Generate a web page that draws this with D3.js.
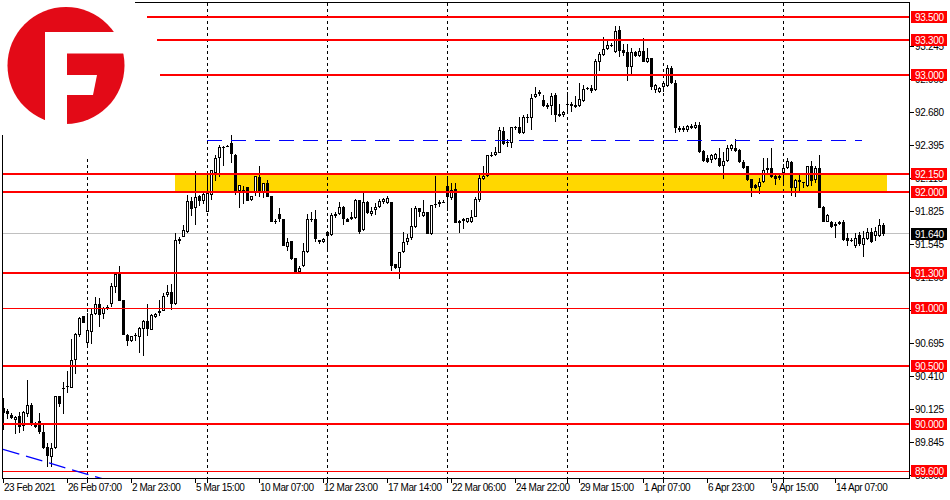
<!DOCTYPE html>
<html><head><meta charset="utf-8">
<script src="https://cdn.jsdelivr.net/npm/d3@7"></script>
<style>
body{margin:0;background:#fff}
text{font-family:'Liberation Sans',Arial,sans-serif;font-size:10px}
text.tl{letter-spacing:-0.45px}
text.pl{letter-spacing:-0.3px}
</style>
</head><body>
<svg id="c" width="950" height="500"></svg>
<script>
// ---------------- DATA (H4 candles, USD index) ----------------
const open = [90.138,90.118,90.081,90.038,90.072,89.986,90.089,90.166,89.995,90.032,89.937,89.803,89.723,89.794,90.244,90.301,90.330,90.315,90.553,90.768,
90.931,90.696,90.796,90.945,91.034,90.945,90.997,91.031,91.177,91.292,91.069,90.771,90.713,90.768,90.753,90.817,90.888,90.811,90.925,90.954,
90.977,91.109,91.137,91.034,91.578,91.613,91.656,91.919,91.856,91.962,91.922,91.827,91.971,92.157,92.286,92.371,92.390,92.414,92.314,92.005,
92.014,92.039,91.925,91.999,92.128,91.999,92.077,91.962,91.747,91.807,91.762,91.527,91.575,91.432,91.306,91.364,91.478,91.762,91.762,91.584,
91.564,91.650,91.627,91.790,91.805,91.870,91.764,91.764,91.770,91.928,91.667,91.908,91.805,91.842,91.865,91.908,91.899,91.908,91.375,91.346,
91.478,91.564,91.598,91.699,91.856,91.793,91.827,91.638,91.890,91.890,91.912,92.048,91.945,92.019,91.727,91.762,91.736,91.741,91.784,91.928,
92.105,92.134,92.315,92.314,92.334,92.520,92.426,92.414,92.543,92.552,92.500,92.644,92.629,92.810,92.838,92.787,92.744,92.735,92.830,92.649,
92.655,92.749,92.749,92.744,92.738,92.781,92.887,92.887,92.873,93.116,93.173,93.222,93.257,93.202,93.388,93.216,93.196,93.073,93.196,93.165,
93.208,93.116,93.150,92.873,92.858,92.901,92.907,93.059,92.930,92.530,92.545,92.525,92.560,92.550,92.575,92.349,92.291,92.271,92.280,92.291,
92.223,92.263,92.366,92.372,92.357,92.257,92.223,92.108,92.057,92.042,92.079,92.185,92.205,92.137,92.114,92.157,92.200,92.257,92.034,92.079,
92.079,92.048,92.217,92.099,92.200,91.870,91.742,91.742,91.704,91.719,91.742,91.604,91.584,91.535,91.627,91.541,91.593,91.650,91.621,91.621,
91.713];
const high = [90.224,90.129,90.095,90.072,90.109,90.118,90.381,90.181,90.023,90.095,90.009,89.837,89.837,90.244,90.244,90.367,90.461,90.731,90.788,90.920,
90.931,90.960,90.988,91.091,91.086,91.011,91.026,91.217,91.298,91.361,91.069,90.776,90.759,90.788,90.834,90.897,91.034,90.948,90.960,91.066,
91.126,91.197,91.206,91.647,91.607,91.713,91.971,91.956,92.180,91.971,91.999,92.180,92.185,92.314,92.400,92.394,92.403,92.486,92.320,92.057,
92.051,92.039,91.965,92.134,92.223,92.071,92.099,91.962,91.762,91.856,91.762,91.598,91.575,91.432,91.364,91.555,91.805,91.822,91.842,91.584,
91.598,91.656,91.813,91.827,91.913,91.876,91.770,91.827,91.936,91.928,91.985,91.919,91.870,91.899,91.936,91.948,91.965,91.908,91.375,91.484,
91.656,91.633,91.856,91.879,91.862,91.928,91.827,91.885,92.137,91.928,91.928,92.137,92.071,92.071,91.756,91.776,91.770,91.842,91.956,92.157,
92.220,92.314,92.343,92.380,92.552,92.558,92.449,92.558,92.563,92.644,92.658,92.666,92.838,92.901,92.873,92.830,92.764,92.850,92.844,92.752,
92.695,92.858,92.772,92.821,92.936,92.916,92.901,92.916,93.136,93.202,93.331,93.296,93.274,93.422,93.422,93.268,93.268,93.231,93.211,93.231,
93.316,93.231,93.150,92.924,92.901,92.944,93.087,93.079,92.959,92.560,92.565,92.575,92.580,92.600,92.600,92.357,92.314,92.320,92.329,92.377,
92.343,92.400,92.406,92.452,92.366,92.271,92.223,92.108,92.062,92.114,92.291,92.291,92.377,92.157,92.142,92.234,92.286,92.263,92.108,92.142,
92.079,92.223,92.263,92.223,92.314,91.879,91.805,91.747,91.736,91.747,91.756,91.641,91.598,91.641,91.650,91.661,91.690,91.684,91.699,91.764,
91.727];
const low = [89.952,90.043,90.043,89.917,89.923,89.943,90.066,89.986,89.966,89.917,89.786,89.637,89.631,89.786,90.152,90.089,90.267,90.315,90.433,90.753,
90.868,90.668,90.688,90.940,90.839,90.902,90.983,91.011,91.126,91.060,90.765,90.673,90.708,90.713,90.616,90.587,90.759,90.811,90.911,90.931,
90.974,91.097,90.983,91.026,91.550,91.607,91.641,91.790,91.713,91.876,91.893,91.827,91.928,92.094,92.128,92.220,92.380,92.243,91.971,91.862,
91.890,91.919,91.919,91.965,91.956,91.948,91.956,91.742,91.721,91.742,91.535,91.490,91.412,91.298,91.298,91.355,91.469,91.736,91.570,91.547,
91.555,91.484,91.621,91.770,91.799,91.713,91.736,91.756,91.764,91.633,91.661,91.805,91.793,91.799,91.856,91.896,91.896,91.318,91.335,91.249,
91.469,91.541,91.584,91.690,91.784,91.784,91.633,91.627,91.856,91.870,91.899,91.833,91.925,91.727,91.647,91.676,91.733,91.727,91.779,91.913,
92.099,92.128,92.300,92.306,92.329,92.400,92.386,92.371,92.529,92.495,92.495,92.586,92.529,92.801,92.821,92.724,92.707,92.658,92.601,92.638,
92.644,92.678,92.686,92.715,92.724,92.772,92.873,92.844,92.867,93.039,93.165,93.216,93.239,93.193,93.159,93.165,92.953,93.001,93.159,93.159,
93.110,93.102,92.873,92.844,92.850,92.858,92.901,92.924,92.506,92.515,92.510,92.515,92.540,92.540,92.334,92.257,92.243,92.243,92.274,92.214,
92.108,92.257,92.349,92.343,92.243,92.194,92.091,91.956,92.019,91.976,92.071,92.142,92.119,92.057,92.099,92.051,92.191,91.965,91.956,91.999,
92.028,92.042,92.051,92.071,91.856,91.736,91.736,91.690,91.598,91.713,91.575,91.535,91.570,91.518,91.535,91.441,91.584,91.555,91.575,91.613,
91.621];
const close = [90.095,90.086,90.058,90.066,89.980,90.109,90.164,89.995,89.980,89.937,89.794,89.728,89.794,90.244,90.175,90.313,90.318,90.553,90.776,90.911,
90.874,90.811,90.948,91.034,90.937,90.997,91.011,91.189,91.292,91.063,90.771,90.719,90.759,90.756,90.825,90.888,90.817,90.937,90.948,90.977,
91.103,91.140,91.037,91.584,91.590,91.670,91.922,91.850,91.951,91.922,91.976,91.985,92.185,92.286,92.380,92.386,92.393,92.320,91.985,92.057,
91.999,91.919,91.965,92.134,91.985,92.071,91.956,91.742,91.736,91.764,91.535,91.564,91.421,91.298,91.346,91.490,91.762,91.758,91.590,91.564,
91.590,91.621,91.799,91.810,91.870,91.762,91.742,91.779,91.928,91.650,91.908,91.813,91.833,91.870,91.919,91.936,91.942,91.364,91.346,91.484,
91.564,91.598,91.704,91.856,91.822,91.822,91.636,91.885,91.896,91.908,91.915,91.956,92.016,91.733,91.750,91.750,91.770,91.784,91.936,92.114,
92.134,92.311,92.318,92.343,92.529,92.409,92.414,92.552,92.552,92.500,92.644,92.635,92.801,92.838,92.858,92.735,92.724,92.821,92.658,92.664,
92.686,92.741,92.735,92.729,92.792,92.881,92.878,92.867,93.125,93.179,93.225,93.259,93.260,93.379,93.211,93.193,93.073,93.196,93.165,93.208,
93.116,93.150,92.901,92.916,92.893,92.930,93.059,92.930,92.543,92.545,92.525,92.560,92.550,92.575,92.343,92.266,92.251,92.314,92.320,92.223,
92.263,92.377,92.400,92.349,92.251,92.205,92.099,92.034,92.028,92.079,92.185,92.205,92.128,92.108,92.134,92.200,92.263,92.034,92.099,92.099,
92.074,92.217,92.091,92.200,91.862,91.742,91.799,91.699,91.724,91.736,91.584,91.575,91.575,91.604,91.547,91.604,91.656,91.564,91.661,91.713,
91.640];

const timeLabels = ["23 Feb 2021","26 Feb 07:00","2 Mar 23:00","5 Mar 15:00","10 Mar 07:00","12 Mar 23:00","17 Mar 14:00",
  "22 Mar 06:00","24 Mar 22:00","29 Mar 15:00","1 Apr 07:00","6 Apr 23:00","9 Apr 15:00","14 Apr 07:00"];
const timeLabelBars = [0,16,32,48,64,80,96,112,128,144,160,176,192,208];
const weekStartBars = [21,51,81,111,141,165,195];
const priceTicks = [93.245,92.960,92.680,92.395,92.110,91.825,91.545,91.260,90.975,90.695,90.410,90.125,89.845,89.560];
const levelPrices = [93.5,93.3,93.0,92.15,92.0,91.3,91.0,90.5,90.0,89.6];
const levelStartBars = [36,38.5,39.25,-0.25,-0.25,-0.25,-0.25,-0.25,-0.25,-0.25];
const levelWidths = [2,2,2,2,2,2,1,2,2,1];
const zoneBars = [43,221];
const zonePrices = [92.0,92.15];
const resistPrice = 92.44;
const resistBars = [51,214.75];
const trendBars = [0,26];
const trendPrices = [89.786,89.522];
const lastPrice = 91.640;

// ---------------- CHART ----------------
const svg = d3.select("#c");
const L = 2.5, R = 909.5, T = 2.5, B = 478.5;
const x = d3.scaleLinear().domain([0,226.5]).range([3,909]);
const y = d3.scaleLinear().domain([89.6,93.5]).range([471,17]);

svg.append("rect").attr("width",950).attr("height",500).attr("fill","#fff");
svg.append("clipPath").attr("id","plot").append("rect")
  .attr("x",L+0.5).attr("y",T+0.5).attr("width",R-L-1).attr("height",B-T-1);
const g = svg.append("g").attr("clip-path","url(#plot)").attr("shape-rendering","crispEdges");

// zone
g.append("rect").attr("x",Math.round(x(zoneBars[0]))).attr("width",Math.round(x(zoneBars[1]))-Math.round(x(zoneBars[0])))
  .attr("y",y(zonePrices[1])).attr("height",y(zonePrices[0])-y(zonePrices[1])).attr("fill","#FFD700");

// week separators
g.selectAll("line.sep").data(weekStartBars).join("line").attr("class","sep")
  .attr("x1",d=>x(d)+0.5).attr("x2",d=>x(d)+0.5).attr("y1",T).attr("y2",B)
  .attr("stroke","#000").attr("stroke-dasharray","3,3");

// last price line
g.append("line").attr("x1",L).attr("x2",R).attr("y1",Math.floor(y(lastPrice))+0.5).attr("y2",Math.floor(y(lastPrice))+0.5)
  .attr("stroke","#c0c0c0");

// candles
const idx = d3.range(open.length);
const cg = g.append("g");
idx.forEach(i=>{
  const cx = Math.round(x(i));
  const yh = Math.round(y(high[i])), yl = Math.round(y(low[i]));
  const bt = Math.round(y(Math.max(open[i],close[i]))), bb = Math.round(y(Math.min(open[i],close[i])));
  cg.append("rect").attr("x",cx).attr("y",yh).attr("width",1).attr("height",Math.max(1,yl-yh)).attr("fill","#000");
  const bull = close[i] >= open[i];
  if (bull && bb-bt >= 2) {
    cg.append("rect").attr("x",cx-0.5).attr("y",bt+0.5).attr("width",2).attr("height",bb-bt-1)
      .attr("fill","#fff").attr("stroke","#000");
  } else {
    cg.append("rect").attr("x",cx-1).attr("y",bt).attr("width",3).attr("height",Math.max(1,bb-bt)).attr("fill","#000");
  }
});

// red levels
levelPrices.forEach((p,k)=>{
  const yy = Math.round(y(p));
  const w = levelWidths[k];
  g.append("rect").attr("x",Math.round(x(levelStartBars[k]))).attr("width",R-Math.round(x(levelStartBars[k])))
    .attr("y",w===2?yy-1:yy).attr("height",w).attr("fill","#ff0000");
});

// blue resistance dashed
const yr = Math.floor(y(resistPrice))+0.5;
g.append("line").attr("x1",x(resistBars[0])).attr("x2",x(resistBars[1])).attr("y1",yr).attr("y2",yr)
  .attr("stroke","#0000ff").attr("stroke-width",1.3).attr("stroke-dasharray","15,9");

// blue trend line
svg.append("g").attr("clip-path","url(#plot)").append("line")
  .attr("x1",x(trendBars[0])).attr("y1",y(trendPrices[0])).attr("x2",x(trendBars[1])).attr("y2",y(trendPrices[1]))
  .attr("stroke","#0000ff").attr("stroke-width",1.3).attr("stroke-dasharray","17,7");

// logo area
svg.append("rect").attr("x",L+0.5).attr("y",0).attr("width",135-L).attr("height",158).attr("fill","#fff");
const logo = svg.append("g");
logo.append("circle").attr("cx",66).attr("cy",65.5).attr("r",58.5).attr("fill","#e30a17");
logo.append("path").attr("d","M45,32 L130,32 L130,53.5 L67,53.5 L67,130 L45,130 Z").attr("fill","#fff");
logo.append("path").attr("d","M67,75 L97,75 L93,95 L67,95 Z").attr("fill","#fff");

// frame
const fr = svg.append("g").attr("stroke","#000").attr("shape-rendering","crispEdges");
fr.append("line").attr("x1",135).attr("x2",R).attr("y1",T).attr("y2",T);
fr.append("line").attr("x1",L).attr("x2",L).attr("y1",135).attr("y2",B);
fr.append("line").attr("x1",L).attr("x2",R).attr("y1",B).attr("y2",B);
fr.append("line").attr("x1",R).attr("x2",R).attr("y1",T).attr("y2",B);

// price axis
const ax = svg.append("g");
priceTicks.forEach(p=>{
  const yy = Math.floor(y(p))+0.5;
  ax.append("line").attr("x1",R).attr("x2",R+4).attr("y1",yy).attr("y2",yy).attr("stroke","#000").attr("shape-rendering","crispEdges");
  ax.append("text").attr("class","pl").attr("x",915).attr("y",yy).attr("dy","0.35em").text(p.toFixed(3));
});
levelPrices.forEach(p=>{
  const yy = y(p);
  ax.append("rect").attr("x",911).attr("y",Math.round(yy)-6).attr("width",36).attr("height",12).attr("fill","#ff0000");
  ax.append("text").attr("class","pl").attr("x",915).attr("y",Math.round(yy)).attr("dy","0.35em").attr("fill","#fff").text(p.toFixed(3));
});
{
  const yy = Math.round(y(lastPrice));
  ax.append("rect").attr("x",911).attr("y",yy-6).attr("width",36).attr("height",12).attr("fill","#000");
  ax.append("text").attr("class","pl").attr("x",915).attr("y",yy).attr("dy","0.35em").attr("fill","#fff").text(lastPrice.toFixed(3));
}

// time axis
timeLabelBars.forEach((b,k)=>{
  const xx = Math.round(x(b));
  ax.append("line").attr("x1",xx+0.5).attr("x2",xx+0.5).attr("y1",B).attr("y2",B+4).attr("stroke","#000").attr("shape-rendering","crispEdges");
  ax.append("text").attr("class","tl").attr("x",xx+1).attr("y",491).text(timeLabels[k]);
});
weekStartBars.forEach(b=>{
  const xx = Math.round(x(b));
  ax.append("line").attr("x1",xx+0.5).attr("x2",xx+0.5).attr("y1",B).attr("y2",B+4).attr("stroke","#000").attr("shape-rendering","crispEdges");
});
</script>
</body></html>
